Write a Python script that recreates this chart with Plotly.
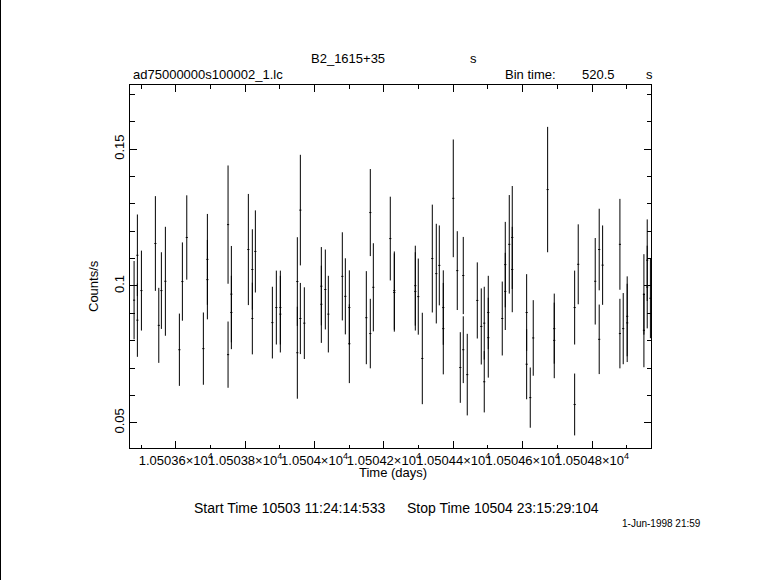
import plotly.graph_objects as go

# ---- data ----
time_days = [
    10503.4798, 10503.4893, 10503.4893, 10503.5009, 10503.5412, 10503.5510, 10503.5585, 10503.5700,
    10503.6104, 10503.6190, 10503.6317, 10503.6795, 10503.6911, 10503.6911, 10503.7507, 10503.7507,
    10503.7602, 10503.7602, 10503.8092, 10503.8207, 10503.8207, 10503.8294, 10503.8784, 10503.8899,
    10503.9014, 10503.9014, 10503.9504, 10503.9504, 10503.9591, 10503.9591, 10503.9706, 10504.0196,
    10504.0196, 10504.0311, 10504.0398, 10504.0801, 10504.0888, 10504.1003, 10504.1003, 10504.1493,
    10504.1608, 10504.1608, 10504.1695, 10504.2184, 10504.2300, 10504.2300, 10504.2905, 10504.2905,
    10504.2991, 10504.3107, 10504.3395, 10504.3510, 10504.3597, 10504.3712, 10504.3712, 10504.4000,
    10504.4115, 10504.4202, 10504.4288, 10504.4288, 10504.4403, 10504.4692, 10504.4807, 10504.4893,
    10504.4893, 10504.5009, 10504.5009, 10504.5412, 10504.5499, 10504.5499, 10504.5614, 10504.5700,
    10504.5700, 10504.6115, 10504.6115, 10504.6219, 10504.6305, 10504.6720, 10504.6911, 10504.6911,
    10504.7499, 10504.7499, 10504.7602, 10504.8092, 10504.8207, 10504.8207, 10504.8305, 10504.8804,
    10504.8804, 10504.8899, 10504.9014, 10504.9014, 10504.9496, 10504.9496, 10504.9591, 10504.9591,
    10504.9683,
]
rate = [
    0.0948, 0.1112, 0.0875, 0.0983, 0.1155, 0.0856, 0.0983, 0.1017,
    0.0767, 0.1016, 0.1177, 0.0771, 0.1097, 0.1023, 0.1224, 0.0749,
    0.0970, 0.0903, 0.1133, 0.1060, 0.0881, 0.1126, 0.0866, 0.0921,
    0.0921, 0.0897, 0.1016, 0.0756, 0.1277, 0.0881, 0.0864, 0.0999,
    0.0933, 0.0987, 0.0897, 0.1035, 0.0962, 0.0921, 0.0789, 0.0884,
    0.1268, 0.0826, 0.0995, 0.1173, 0.0983, 0.0976, 0.1001, 0.0980,
    0.0961, 0.0735, 0.1100, 0.1045, 0.1075, 0.0921, 0.0844, 0.1320,
    0.1056, 0.0702, 0.1038, 0.0767, 0.0676, 0.0947, 0.0852, 0.0864,
    0.0650, 0.0903, 0.0811, 0.0881, 0.1078, 0.0980, 0.1152, 0.1177,
    0.1060, 0.0903, 0.0714, 0.0592, 0.0810, 0.1352, 0.0844, 0.0801,
    0.0921, 0.0567, 0.1079, 0.1017, 0.1133, 0.0805, 0.1076, 0.1152,
    0.0826, 0.0844, 0.0889, 0.0865, 0.0969, 0.0838, 0.1094, 0.0996,
    0.0955,
]
rate_err = [
    0.0143, 0.0149, 0.0134, 0.0146, 0.0173, 0.0137, 0.0140, 0.0199,
    0.0132, 0.0143, 0.0154, 0.0132, 0.0166, 0.0145, 0.0216, 0.0121,
    0.0176, 0.0134, 0.0203, 0.0147, 0.0131, 0.0150, 0.0131, 0.0135,
    0.0135, 0.0140, 0.0162, 0.0168, 0.0202, 0.0130, 0.0131, 0.0143,
    0.0141, 0.0146, 0.0140, 0.0161, 0.0139, 0.0136, 0.0144, 0.0170,
    0.0159, 0.0127, 0.0161, 0.0153, 0.0143, 0.0143, 0.0146, 0.0143,
    0.0139, 0.0167, 0.0197, 0.0182, 0.0146, 0.0136, 0.0167, 0.0215,
    0.0144, 0.0129, 0.0141, 0.0122, 0.0149, 0.0139, 0.0139, 0.0133,
    0.0112, 0.0134, 0.0146, 0.0135, 0.0156, 0.0141, 0.0180, 0.0188,
    0.0156, 0.0140, 0.0128, 0.0110, 0.0138, 0.0229, 0.0128, 0.0138,
    0.0135, 0.0113, 0.0146, 0.0158, 0.0149, 0.0127, 0.0145, 0.0166,
    0.0127, 0.0130, 0.0146, 0.0143, 0.0147, 0.0135, 0.0149, 0.0151,
    0.0146,
]
bin_time_s = 520.5
xtick_vals = [10503.6, 10503.8, 10504.0, 10504.2, 10504.4, 10504.6, 10504.8]
xtick_text = ["1.05036×10<sup>4</sup>", "1.05038×10<sup>4</sup>", "1.0504×10<sup>4</sup>",
              "1.05042×10<sup>4</sup>", "1.05044×10<sup>4</sup>", "1.05046×10<sup>4</sup>",
              "1.05048×10<sup>4</sup>"]
ytick_vals = [0.05, 0.1, 0.15]
ytick_text = ["0.05", "0.1", "0.15"]
x_range = [10503.468, 10504.970]
y_range = [0.0408, 0.1734]

half_bin_days = bin_time_s / 86400.0 / 2.0

FONT = "Liberation Sans"
W, H = 781, 580
L, R, T, B = 130, 130, 85, 132
PW, PH = W - L - R, H - T - B


def px(x):
    return (x - L) / PW


def py(y):
    return (H - B - y) / PH


fig = go.Figure()
fig.add_trace(go.Scatter(
    x=time_days, y=rate, mode="markers",
    marker=dict(size=1, color="black", opacity=0),
    error_y=dict(type="data", array=rate_err, visible=True, width=0, thickness=1, color="black"),
    error_x=dict(type="constant", value=half_bin_days, visible=True, width=0, thickness=1, color="black"),
    hoverinfo="x+y", showlegend=False,
))

axis_common = dict(showline=True, linecolor="black", linewidth=1, mirror="ticks",
                   ticks="inside", tickcolor="black", tickwidth=1, showgrid=False,
                   zeroline=False, tickfont=dict(family=FONT, size=13, color="black"))

fig.update_xaxes(range=x_range, tickmode="array", tickvals=xtick_vals, ticktext=xtick_text,
                 ticklen=7, tickangle=0,
                 minor=dict(tickmode="linear", tick0=10503.5, dtick=0.1, ticklen=3.5,
                            ticks="inside", tickcolor="black", showgrid=False),
                 **axis_common)
fig.update_yaxes(range=y_range, tickmode="array", tickvals=ytick_vals, ticktext=ytick_text,
                 ticklen=7, tickangle=-90,
                 minor=dict(tickmode="linear", tick0=0.05, dtick=0.01, ticklen=4.5,
                            ticks="inside", tickcolor="black", showgrid=False),
                 **axis_common)

ann = []


def text(s, x, y, anchor="left", size=13, angle=0):
    ann.append(dict(text=s, x=px(x), y=py(y), xref="paper", yref="paper",
                    xanchor=anchor, yanchor="middle", showarrow=False, textangle=angle,
                    font=dict(family=FONT, size=size, color="black")))


text("B2_1615+35", 309, 59)
text("s", 468, 59)
text("ad75000000s100002_1.lc", 131, 75)
text("Bin time:", 503, 75)
text("520.5", 580, 75)
text("s", 644, 75)
text("Counts/s", 93, 286, anchor="center", angle=-90)
text("Time (days)", 393, 472, anchor="center")
text("Start Time 10503 11:24:14:533", 192, 508, size=14)
text("Stop Time 10504 23:15:29:104", 405, 508, size=14)
text("1-Jun-1998 21:59", 620, 523, size=10)

fig.update_layout(
    width=W, height=H, margin=dict(l=L, r=R, t=T, b=B, autoexpand=False),
    paper_bgcolor="white", plot_bgcolor="white", annotations=ann,
    shapes=[dict(type="line", xref="paper", yref="paper", x0=px(0.5), x1=px(0.5),
                 y0=py(0), y1=py(H), line=dict(color="black", width=1))],
)

fig.write_html("out.html", config={"displayModeBar": False},
               post_script="document.body.style.margin='0';document.body.style.overflow='hidden';")
